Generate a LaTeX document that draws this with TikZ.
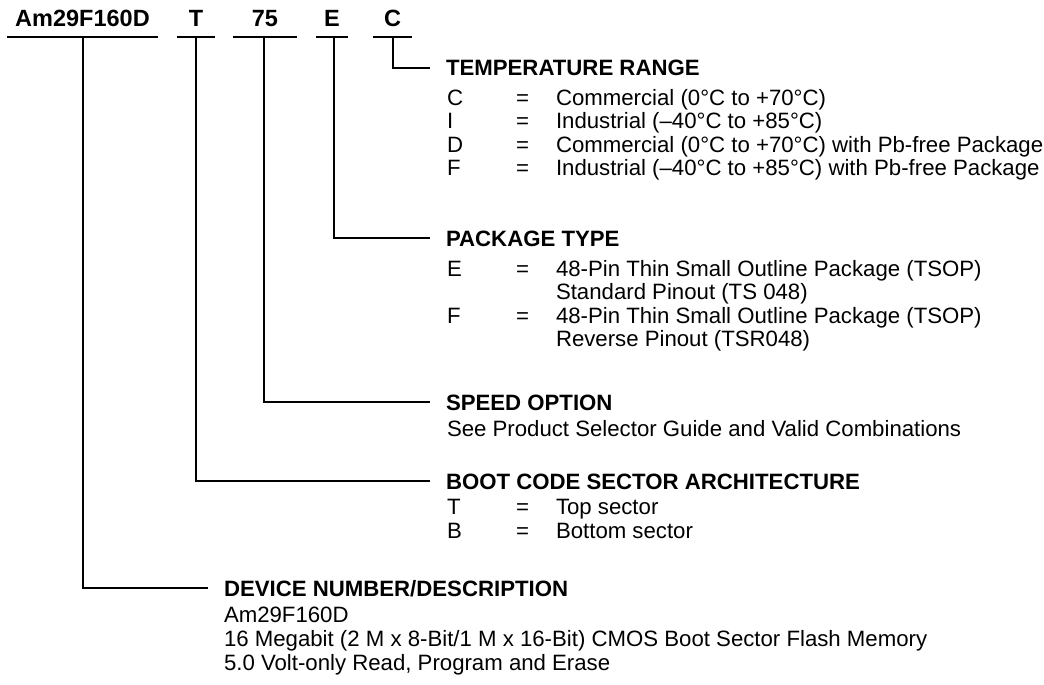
\documentclass[tikz,border=0pt]{standalone}
\usepackage{fontspec}
\setmainfont{Liberation Sans}
\begin{document}
\begin{tikzpicture}[x=1pt,y=-1pt,
  every node/.style={inner sep=0pt,outer sep=0pt,font=\fontsize{22.2}{26}\selectfont},
  code/.style={anchor=base,font=\fontsize{23.5}{26}\selectfont\bfseries},
  title/.style={anchor=base west,font=\fontsize{22.2}{26}\selectfont\bfseries},
  txt/.style={anchor=base west},
  lead/.style={line width=1.9pt}]
\useasboundingbox (0,0) rectangle (1044,685);
% code letters
\node[code] (lAm) at (82.5,27) {Am29F160D};
\node[code] (lT)  at (196,27) {T};
\node[code] (l75) at (265,27) {75};
\node[code] (lE)  at (332,27) {E};
\node[code] (lC)  at (392.5,27) {C};
% underlines
\coordinate (uAmL) at (7,37);   \coordinate (uAmR) at (158,37);
\coordinate (uTL)  at (177,37); \coordinate (uTR)  at (215,37);
\coordinate (u75L) at (233,37); \coordinate (u75R) at (297,37);
\coordinate (uEL)  at (316,37); \coordinate (uER)  at (348,37);
\coordinate (uCL)  at (373,37); \coordinate (uCR)  at (412,37);
\draw[lead] (uAmL) -- (uAmR);
\draw[lead] (uTL) -- (uTR);
\draw[lead] (u75L) -- (u75R);
\draw[lead] (uEL) -- (uER);
\draw[lead] (uCL) -- (uCR);
% drop points
\coordinate (vAm) at (83,37);
\coordinate (vT)  at (196,37);
\coordinate (v75) at (264,37);
\coordinate (vE)  at (334,37);
\coordinate (vC)  at (393,37);
% junctions
\coordinate (jTemp)  at (430,68);
\coordinate (jPack)  at (430,238);
\coordinate (jSpeed) at (430,402);
\coordinate (jBoot)  at (430,481);
\coordinate (jDev)   at (208,588);
\draw[lead] (vC) |- (jTemp);
\draw[lead] (vE) |- (jPack);
\draw[lead] (v75) |- (jSpeed);
\draw[lead] (vT) |- (jBoot);
\draw[lead] (vAm) |- (jDev);
% temperature range
\node[title] (tTemp) at (446,76) {TEMPERATURE RANGE};
\node[txt] (kC) at (447,105) {C};   \node[txt] (eC) at (516,105) {=}; \node[txt] (dC) at (556,105) {Commercial (0°C to +70°C)};
\node[txt] (kI) at (447,128.5) {I}; \node[txt] (eI) at (516,128.5) {=}; \node[txt] (dI) at (556,128.5) {Industrial (\textendash40°C to +85°C)};
\node[txt] (kD) at (447,152) {D};   \node[txt] (eD) at (516,152) {=}; \node[txt] (dD) at (556,152) {Commercial (0°C to +70°C) with Pb-free Package};
\node[txt] (kF) at (447,175.5) {F}; \node[txt] (eF) at (516,175.5) {=}; \node[txt] (dF) at (556,175.5) {Industrial (\textendash40°C to +85°C) with Pb-free Package};
% package type
\node[title] (tPack) at (446,246) {PACKAGE TYPE};
\node[txt] (kE) at (447,276) {E}; \node[txt] (eE) at (516,276) {=}; \node[txt] (dE) at (556,276) {48-Pin Thin Small Outline Package (TSOP)};
\node[txt] (dE2) at (556,299.5) {Standard Pinout (TS 048)};
\node[txt] (kF2) at (447,323) {F}; \node[txt] (eF2) at (516,323) {=}; \node[txt] (dF2) at (556,323) {48-Pin Thin Small Outline Package (TSOP)};
\node[txt] (dF3) at (556,346.5) {Reverse Pinout (TSR048)};
% speed option
\node[title] (tSpeed) at (446,410) {SPEED OPTION};
\node[txt] (dS) at (447,436) {See Product Selector Guide and Valid Combinations};
% boot code
\node[title] (tBoot) at (446,489) {BOOT CODE SECTOR ARCHITECTURE};
\node[txt] (kT) at (447,514) {T}; \node[txt] (eT) at (516,514) {=}; \node[txt] (dT) at (556,514) {Top sector};
\node[txt] (kB) at (447,538) {B}; \node[txt] (eB) at (516,538) {=}; \node[txt] (dB) at (556,538) {Bottom sector};
% device
\node[title] (tDev) at (224,596) {DEVICE NUMBER/DESCRIPTION};
\node[txt] (dDev1) at (224,622) {Am29F160D};
\node[txt] (dDev2) at (224,646) {16 Megabit (2 M x 8-Bit/1 M x 16-Bit) CMOS Boot Sector Flash Memory};
\node[txt] (dDev3) at (224,670) {5.0 Volt-only Read, Program and Erase};
\end{tikzpicture}
\end{document}
